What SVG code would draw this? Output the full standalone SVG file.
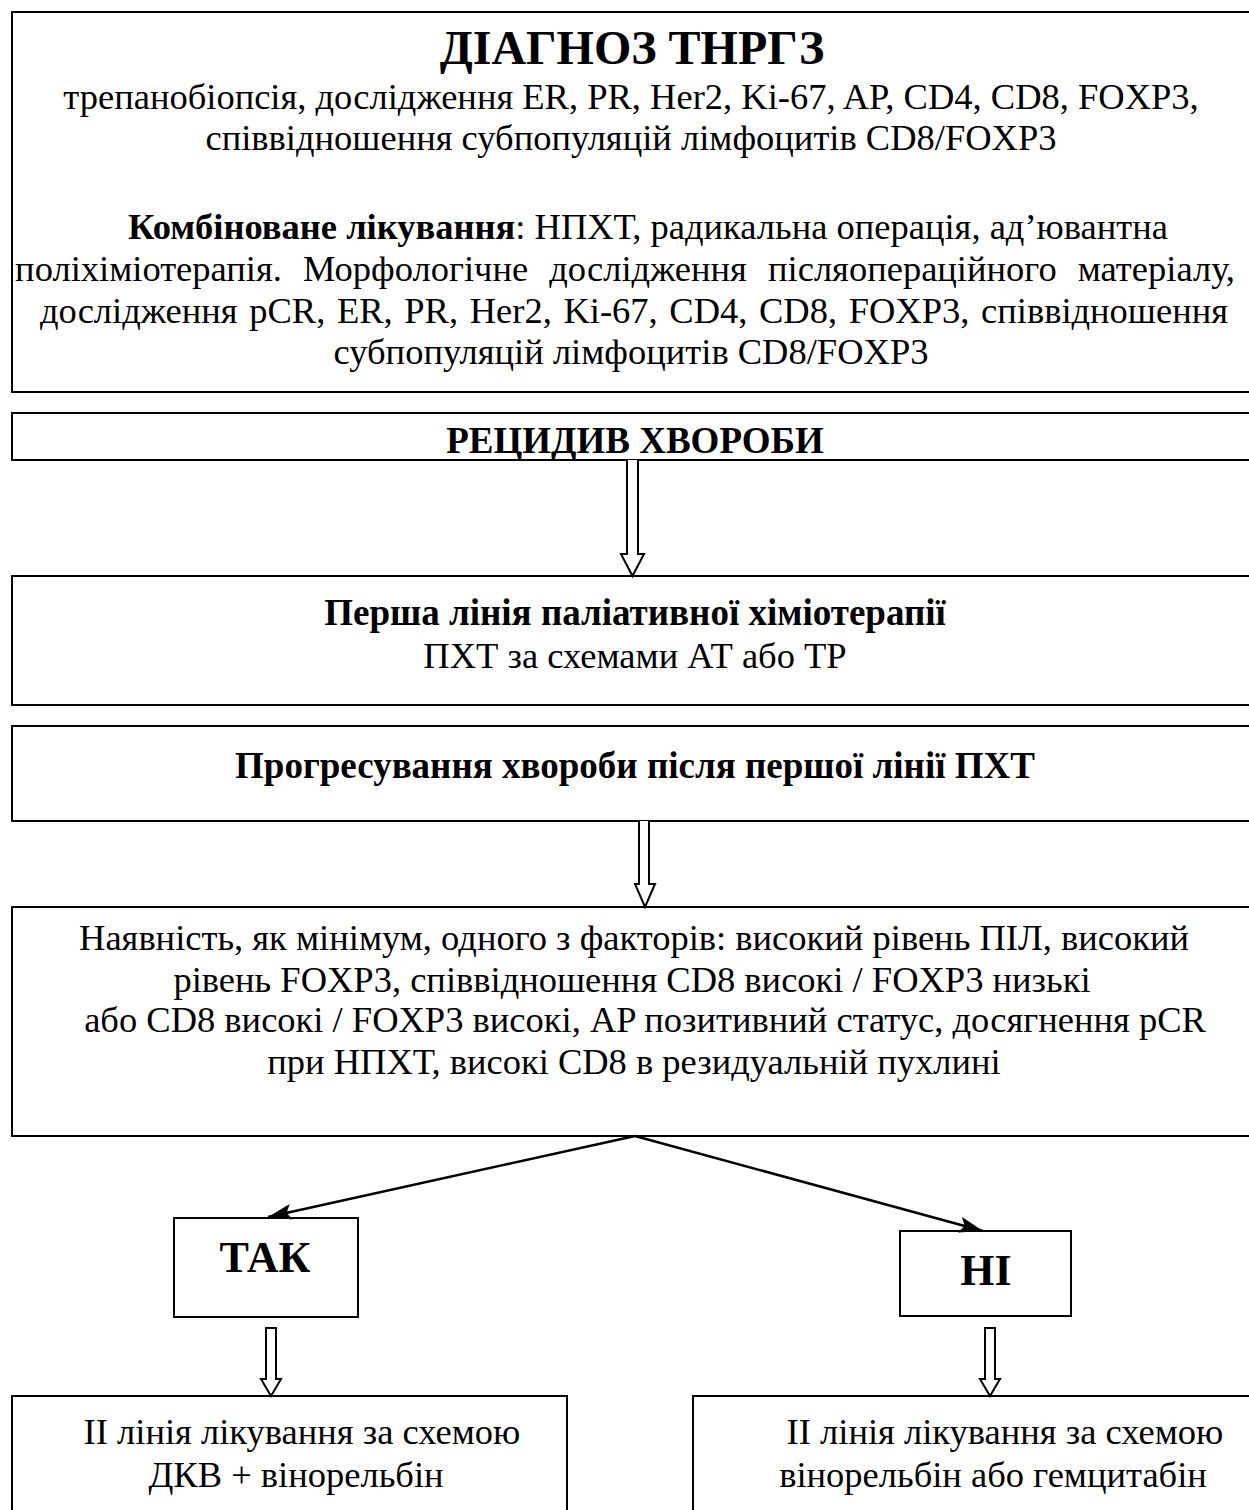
<svg xmlns="http://www.w3.org/2000/svg" width="1249" height="1510" viewBox="0 0 1249 1510">
<style>
.box{fill:#fff;stroke:#000;stroke-width:2}
.t{font-family:"Liberation Serif","Times New Roman",serif;font-size:36.5px;fill:#000;text-anchor:middle}
.b{font-weight:bold;font-size:37px}
.h{font-size:48px;font-weight:bold}
.k{font-size:44px;font-weight:bold}
.ha{fill:#fff;stroke:#000;stroke-width:2;stroke-linejoin:miter}
.ln{stroke:#000;stroke-width:2.5;fill:none}
</style>
<defs>
<marker id="ah2" viewBox="0 0 24 16" refX="24" refY="8" markerWidth="24" markerHeight="16" orient="auto" markerUnits="userSpaceOnUse">
<path d="M0,0 L24,8 L0,16 L5,8 z" fill="#000"/>
</marker>
</defs>
<g id="n1">
<rect class="box" x="12" y="12" width="1250" height="380"/>
<text class="t h" x="632" y="64">ДІАГНОЗ ТНРГЗ</text>
<text class="t" x="631" y="109">трепанобіопсія, дослідження ER, PR, Her2, Ki-67, AP, CD4, CD8, FOXP3,</text>
<text class="t" x="631" y="150">співвідношення субпопуляцій лімфоцитів CD8/FOXP3</text>
<text class="t" x="648" y="239"><tspan font-weight="bold">Комбіноване лікування</tspan>: НПХТ, радикальна операція, ад’ювантна</text>
<text class="t" x="625" y="281" word-spacing="12">поліхіміотерапія. Морфологічне дослідження післяопераційного матеріалу,</text>
<text class="t" x="634" y="323" word-spacing="2.5">дослідження pCR, ER, PR, Her2, Ki-67, CD4, CD8, FOXP3, співвідношення</text>
<text class="t" x="631" y="364">субпопуляцій лімфоцитів CD8/FOXP3</text>
</g>
<g id="n2">
<rect class="box" x="12" y="413" width="1250" height="47"/>
<text class="t b" x="635" y="453">РЕЦИДИВ ХВОРОБИ</text>
</g>
<g id="n3">
<rect class="box" x="12" y="576" width="1250" height="129"/>
<text class="t b" x="635" y="625">Перша лінія паліативної хіміотерапії</text>
<text class="t" x="635" y="668">ПХТ за схемами АТ або ТР</text>
</g>
<g id="n4">
<rect class="box" x="12" y="726" width="1250" height="95"/>
<text class="t b" x="635" y="778">Прогресування хвороби після першої лінії ПХТ</text>
</g>
<g id="n5">
<rect class="box" x="12" y="907" width="1250" height="229"/>
<text class="t" x="634" y="950">Наявність, як мінімум, одного з факторів: високий рівень ПІЛ, високий</text>
<text class="t" x="632" y="992">рівень FOXP3, співвідношення CD8 високі / FOXP3 низькі</text>
<text class="t" x="645" y="1032">або CD8 високі / FOXP3 високі, AP позитивний статус, досягнення pCR</text>
<text class="t" x="634" y="1074">при НПХТ, високі CD8 в резидуальній пухлині</text>
</g>
<g id="n6">
<rect class="box" x="174" y="1218" width="184" height="99"/>
<text class="t k" x="265" y="1272">ТАК</text>
</g>
<g id="n7">
<rect class="box" x="900" y="1231" width="171" height="85"/>
<text class="t k" x="986" y="1285">НІ</text>
</g>
<g id="n8">
<rect class="box" x="12" y="1396" width="555" height="130"/>
<text class="t" x="302" y="1444">ІІ лінія лікування за схемою</text>
<text class="t" x="296" y="1487">ДКВ + вінорельбін</text>
</g>
<g id="n9">
<rect class="box" x="693" y="1396" width="570" height="130"/>
<text class="t" x="1005" y="1444">ІІ лінія лікування за схемою</text>
<text class="t" x="993" y="1487">вінорельбін або гемцитабін</text>
</g>
<g id="connectors">
<path class="ha" d="M627,460 V554 H621 L632.5,576 L644,554 H638 V460"/>
<path class="ha" d="M639,821 V884 H635 L645,907 L655,884 H649 V821"/>
<line class="ln" x1="635" y1="1136" x2="268" y2="1217" marker-end="url(#ah2)"/>
<line class="ln" x1="635" y1="1136" x2="983" y2="1231" marker-end="url(#ah2)"/>
<path class="ha" d="M266,1328 V1379 H261 L271,1396 L281,1379 H276 V1328 Z"/>
<path class="ha" d="M985,1328 V1379 H980 L990,1396 L1000,1379 H995 V1328 Z"/>
</g>
</svg>
